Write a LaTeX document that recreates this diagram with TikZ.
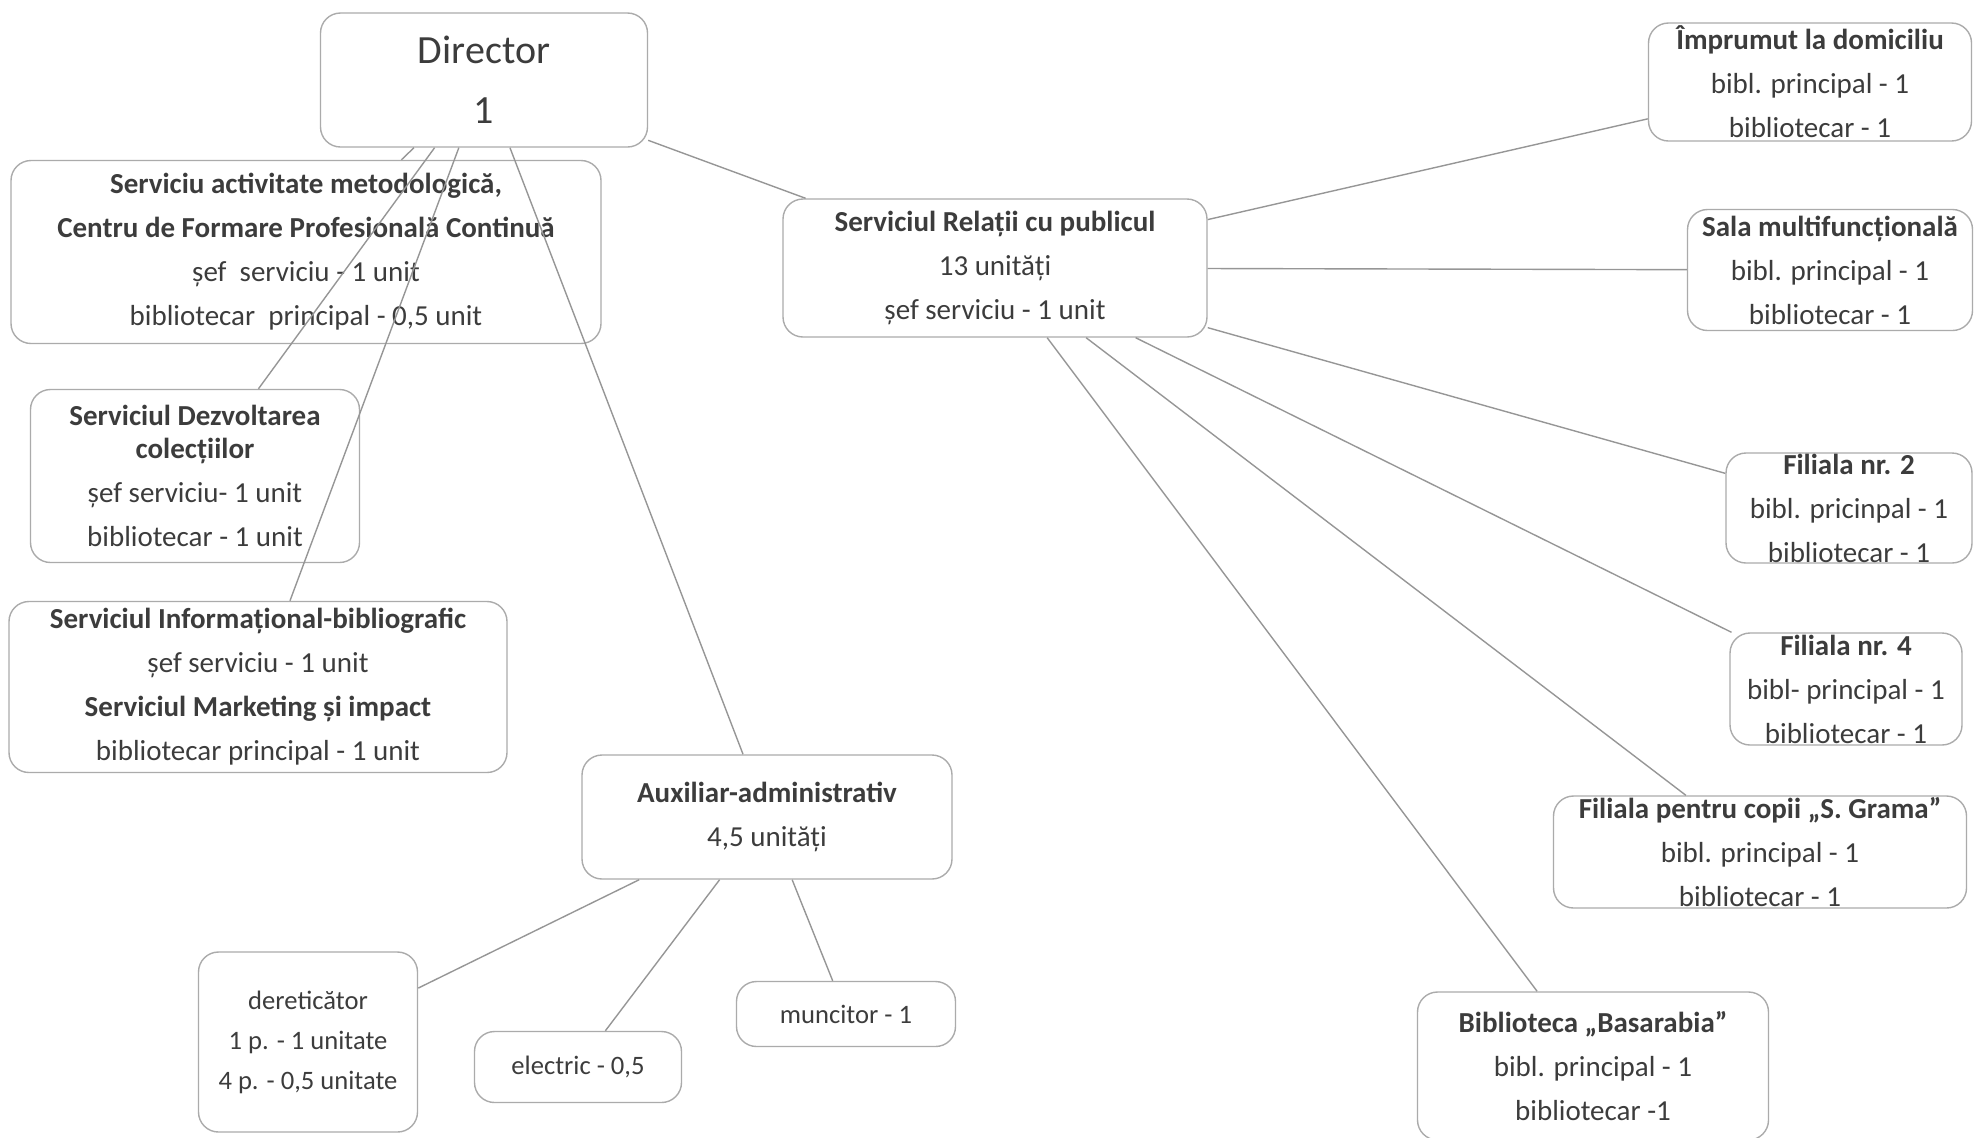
\documentclass[tikz,border=0pt]{standalone}
\usepackage{fontspec}
\setmainfont{Carlito}
\usepackage{tikz}

\definecolor{boxgray}{HTML}{ABABAB}
\definecolor{linkgray}{HTML}{969696}
\definecolor{txtgray}{HTML}{3C3C3C}

\tikzset{
    unitbox/.style={draw=boxgray, line width=0.7pt, rounded corners=10pt, align=center, inner sep=0pt,
                    text=txtgray, font=\fontsize{14.5}{22}\selectfont},
    smallbox/.style={unitbox, font=\fontsize{13.3}{20}\selectfont},
    link/.style={every edge/.style={draw=linkgray, line width=0.7pt}}
}

\begin{document}
\begin{tikzpicture}[x=0.5pt, y=-0.5pt]
    \useasboundingbox (0,0) rectangle (1974,1137);

    % left side
    \node[unitbox, minimum width=163.5pt, minimum height=67pt, font=\fontsize{20}{30}\selectfont]
                                                         (dir)    at (484,80)    {Director\\1};
    \node[unitbox, minimum width=295pt,   minimum height=91.5pt] (metod)  at (306,252)   {\textbf{Serviciu activitate metodologică,}\\\textbf{Centru de Formare Profesională Continuă}\\șef\ \ serviciu - 1 unit\\bibliotecar\ \ principal - 0,5 unit};
    \node[unitbox, minimum width=164.5pt, minimum height=86.5pt] (dezv)   at (195,476)   {\textbf{Serviciul Dezvoltarea}\\[-5.5pt]\textbf{colecțiilor}\\șef serviciu- 1 unit\\bibliotecar - 1 unit};
    \node[unitbox, minimum width=249pt,   minimum height=85.5pt] (info)   at (258,687)   {\textbf{Serviciul Informațional-bibliografic}\\șef serviciu - 1 unit\\\textbf{Serviciul Marketing și impact}\\bibliotecar principal - 1 unit};
    \node[unitbox, minimum width=185pt,   minimum height=62pt]   (aux)    at (767,817)   {\textbf{Auxiliar-administrativ}\\4,5 unități};
    \node[smallbox, minimum width=109.5pt, minimum height=90pt]  (deret)  at (308,1042)  {dereticător\\1 p. - 1 unitate\\4 p. - 0,5 unitate};
    \node[smallbox, minimum width=103.5pt, minimum height=35.5pt] (electr) at (578,1067) {electric - 0,5};
    \node[smallbox, minimum width=109.5pt, minimum height=32.5pt] (munc)  at (846,1014)  {muncitor - 1};

    % right side
    \node[unitbox, minimum width=212pt,   minimum height=69pt]   (rel)    at (995,268)   {\textbf{Serviciul Relații cu publicul}\\13 unități\\șef serviciu - 1 unit};
    \node[unitbox, minimum width=161.5pt, minimum height=59pt]   (impr)   at (1810,82)   {\textbf{Împrumut la domiciliu}\\bibl. principal - 1\\bibliotecar - 1};
    \node[unitbox, minimum width=142.5pt, minimum height=60.5pt] (sala)   at (1830,270)  {\textbf{Sala multifuncțională}\\bibl. principal - 1\\bibliotecar - 1};
    \node[unitbox, minimum width=123pt,   minimum height=55pt]   (fil2)   at (1849,508)  {\textbf{Filiala nr. 2}\\bibl. pricinpal - 1\\bibliotecar - 1};
    \node[unitbox, minimum width=116pt,   minimum height=56pt]   (fil4)   at (1846,689)  {\textbf{Filiala nr. 4}\\bibl- principal - 1\\bibliotecar - 1};
    \node[unitbox, minimum width=206.5pt, minimum height=56pt]   (copii)  at (1760,852)  {\textbf{Filiala pentru copii „S. Grama”}\\bibl. principal - 1\\bibliotecar - 1};
    \node[unitbox, minimum width=175.5pt, minimum height=74pt]   (basa)   at (1593,1066) {\textbf{Biblioteca „Basarabia”}\\bibl. principal - 1\\bibliotecar -1};

    \path[link] (dir)  edge (metod)
                       edge (dezv)
                       edge (info)
                       edge (aux)
                       edge (rel)
                (aux)  edge (deret)
                       edge (electr)
                       edge (munc)
                (rel)  edge (impr)
                       edge (sala)
                       edge (fil2)
                       edge (fil4)
                       edge (copii)
                       edge (basa);
\end{tikzpicture}
\end{document}
